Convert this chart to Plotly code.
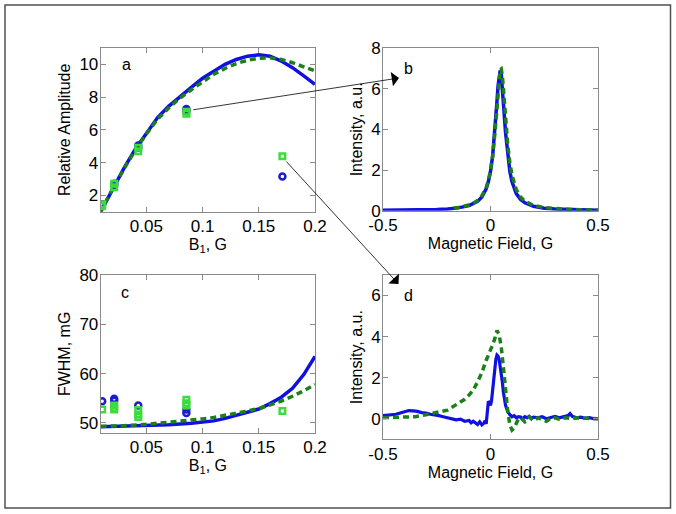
import plotly.graph_objects as go

# ---------------- data ----------------
# panel a: relative amplitude vs B1
a_curve_x = [0.0094, 0.015, 0.02, 0.03, 0.04, 0.05, 0.06, 0.07, 0.08, 0.09, 0.1, 0.11, 0.12, 0.13,
             0.14, 0.15, 0.16, 0.17, 0.18, 0.19, 0.2]
a_blue_curve = [1.0, 1.75, 2.4, 3.65, 4.8, 5.8, 6.75, 7.45, 8.05, 8.6, 9.15, 9.6, 10.0, 10.3,
                10.5, 10.58, 10.5, 10.2, 9.8, 9.3, 8.78]
a_green_curve = [1.0, 1.75, 2.4, 3.6, 4.75, 5.75, 6.65, 7.35, 7.95, 8.45, 8.95, 9.4, 9.75, 10.05,
                 10.25, 10.37, 10.4, 10.3, 10.1, 9.85, 9.6]
a_blue_pts_x = [0.0107, 0.0214, 0.0214, 0.0428, 0.0428, 0.0856, 0.0856, 0.171]
a_blue_pts_y = [1.45, 2.7, 2.6, 5.05, 4.9, 7.27, 7.15, 3.15]
a_green_pts_x = [0.0107, 0.0107, 0.0214, 0.0214, 0.0428, 0.0428, 0.0856, 0.0856, 0.171]
a_green_pts_y = [1.45, 1.35, 2.7, 2.5, 4.9, 4.7, 7.1, 6.98, 4.38]

# panel b: spectrum for B1 = 0.0856 G
b_blue_x = [-0.5, -0.45, -0.4, -0.35, -0.3, -0.25, -0.2, -0.15, -0.1, -0.08, -0.06, -0.04, -0.02,
            -0.01, 0, 0.01, 0.02, 0.025, 0.03, 0.035, 0.04, 0.045, 0.05, 0.055, 0.06, 0.065, 0.07,
            0.08, 0.09, 0.1, 0.12, 0.14, 0.16, 0.2, 0.25, 0.3, 0.35, 0.4, 0.45, 0.5]
b_blue_y = [0.02, 0.022, 0.027, 0.035, 0.045, 0.062, 0.089, 0.139, 0.248, 0.33, 0.458, 0.676, 1.08,
            1.42, 1.93, 2.69, 3.84, 4.57, 5.36, 6.12, 6.69, 6.9, 6.69, 6.12, 5.36, 4.57, 3.84,
            2.69, 1.93, 1.42, 0.84, 0.55, 0.39, 0.22, 0.126, 0.082, 0.058, 0.043, 0.033, 0.026]
b_green_x = [-0.17, -0.15, -0.1, -0.08, -0.06, -0.04, -0.02, -0.01, 0, 0.01, 0.02, 0.03, 0.035,
             0.04, 0.045, 0.05, 0.055, 0.06, 0.065, 0.07, 0.08, 0.09, 0.1, 0.12, 0.14, 0.16, 0.2,
             0.25, 0.3, 0.35, 0.4, 0.45, 0.5]
b_green_y = [0.13, 0.157, 0.277, 0.365, 0.5, 0.73, 1.14, 1.48, 1.97, 2.69, 3.74, 5.15, 5.89,
             6.53, 6.93, 6.97, 6.64, 6.03, 5.3, 4.55, 3.27, 2.36, 1.75, 1.04, 0.67, 0.47, 0.26,
             0.15, 0.098, 0.068, 0.05, 0.039, 0.03]

# panel c: FWHM vs B1
c_curve_x = [0.0094, 0.03, 0.05, 0.07, 0.09, 0.1, 0.11, 0.12, 0.13, 0.14, 0.15, 0.16, 0.17,
             0.18, 0.19, 0.2]
c_blue_curve = [49.2, 49.3, 49.4, 49.6, 49.9, 50.1, 50.4, 50.9, 51.5, 52.1, 52.8, 53.9, 55.2,
                57.0, 59.8, 63.5]
c_green_curve = [49.3, 49.4, 49.7, 50.1, 50.5, 50.8, 51.1, 51.5, 51.9, 52.4, 52.9, 53.6, 54.4,
                 55.4, 56.5, 57.8]
c_blue_pts_x = [0.0107, 0.0214, 0.0214, 0.0428, 0.0856, 0.0856]
c_blue_pts_y = [54.4, 54.9, 54.5, 53.5, 52.0, 52.7]
c_green_pts_x = [0.0107, 0.0214, 0.0214, 0.0214, 0.0428, 0.0428, 0.0428, 0.0856, 0.0856, 0.0856, 0.171]
c_green_pts_y = [52.7, 53.0, 52.7, 53.5, 52.6, 51.7, 51.2, 54.7, 54.0, 53.5, 52.4]

# panel d: spectrum for B1 = 0.171 G
d_blue_x = [-0.5, -0.48, -0.46, -0.44, -0.42, -0.4, -0.38, -0.36, -0.34, -0.32, -0.3, -0.28, -0.26,
            -0.24, -0.22, -0.2, -0.18, -0.16, -0.14, -0.12, -0.1, -0.09, -0.08, -0.07, -0.06,
            -0.05, -0.04, -0.03, -0.025, -0.02, -0.015, -0.01, -0.005, 0, 0.005, 0.01, 0.015,
            0.02, 0.025, 0.03, 0.035, 0.04, 0.045, 0.05, 0.055, 0.06, 0.065, 0.07, 0.075, 0.08,
            0.09, 0.1, 0.11, 0.12, 0.13, 0.14, 0.15, 0.16, 0.17, 0.18, 0.19, 0.2, 0.22, 0.24,
            0.26, 0.28, 0.3, 0.32, 0.34, 0.36, 0.37, 0.38, 0.4, 0.42, 0.44, 0.46, 0.48, 0.5]
d_blue_y = [0.15, 0.17, 0.18, 0.22, 0.28, 0.35, 0.4, 0.38, 0.36, 0.3, 0.28, 0.22, 0.2,
            0.15, 0.1, 0.05, 0.02, -0.05, -0.02, -0.12, -0.08, -0.2, -0.12, -0.18, -0.28,
            -0.15, -0.3, -0.2, -0.1, -0.25, 0.3, 0.85, 0.8, 0.65, 0.9, 1.4, 2.0,
            2.5, 2.9, 3.1, 3.05, 2.9, 2.6, 2.2, 1.8, 1.3, 0.9, 0.65, 0.5, 0.35,
            0.2, 0.1, 0.15, 0.05, 0.1, 0.08, 0.0, 0.1, 0.05, 0.12, 0.02, 0.08, 0.05, 0.1,
            0.0, 0.08, 0.12, 0.05, 0.1, 0.15, 0.25, 0.12, 0.05, 0.08, 0.02, 0.05, 0.0, 0.0]
d_green_x = [-0.5, -0.45, -0.4, -0.35, -0.3, -0.25, -0.2, -0.15, -0.12, -0.1, -0.08, -0.06, -0.04,
             -0.02, 0, 0.01, 0.02, 0.03, 0.04, 0.05, 0.06, 0.07, 0.08, 0.09, 0.1, 0.11, 0.12,
             0.13, 0.14, 0.15, 0.16, 0.17, 0.18, 0.19, 0.2, 0.22, 0.24, 0.26, 0.28, 0.3, 0.32,
             0.35, 0.38, 0.4, 0.45, 0.5]
d_green_y = [0.05, 0.06, 0.08, 0.1, 0.2, 0.3, 0.42, 0.75, 0.95, 1.15, 1.4, 1.8, 2.25,
             2.85, 3.3, 3.6, 3.9, 4.3, 4.1, 3.5, 2.5, 1.4, 0.4, -0.3, -0.55, -0.45, -0.2,
             0.0, 0.05, -0.05, -0.15, -0.05, 0.08, 0.0, -0.1, 0.05, -0.05, -0.12, 0.02, 0.05, -0.02,
             0.05, 0.0, 0.05, 0.02, 0.0]

# ---------------- styles ----------------
BLUE = "#1010e0"
BLUE_M = "#1c1cd0"
DKGREEN = "#1a801a"
LIME = "#3cdc3c"
FONT = "Liberation Sans, Arial, sans-serif"
W, H = 676, 514

fig = go.Figure()


def curves(xa, ya, x, yb, yg, xg=None):
    fig.add_trace(go.Scatter(x=x, y=yb, mode="lines", line=dict(color=BLUE, width=3.5),
                             xaxis=xa, yaxis=ya, showlegend=False, hoverinfo="skip"))
    fig.add_trace(go.Scatter(x=xg if xg is not None else x, y=yg, mode="lines",
                             line=dict(color=DKGREEN, width=3.5, dash="6px,4px"),
                             xaxis=xa, yaxis=ya, showlegend=False, hoverinfo="skip"))


def points(xa, ya, bx, by, gx, gy):
    fig.add_trace(go.Scatter(x=bx, y=by, mode="markers",
                             marker=dict(symbol="circle-open", size=6, color=BLUE_M,
                                         line=dict(width=2.5, color=BLUE_M)),
                             xaxis=xa, yaxis=ya, showlegend=False, hoverinfo="skip"))
    fig.add_trace(go.Scatter(x=gx, y=gy, mode="markers",
                             marker=dict(symbol="square-open", size=5.5, color=LIME,
                                         line=dict(width=2.5, color=LIME)),
                             xaxis=xa, yaxis=ya, showlegend=False, hoverinfo="skip"))


curves("x", "y", a_curve_x, a_blue_curve, a_green_curve)
points("x", "y", a_blue_pts_x, a_blue_pts_y, a_green_pts_x, a_green_pts_y)

fig.add_trace(go.Scatter(x=b_blue_x, y=b_blue_y, mode="lines", line=dict(color=BLUE, width=3.5),
                         xaxis="x2", yaxis="y2", showlegend=False, hoverinfo="skip"))
fig.add_trace(go.Scatter(x=b_green_x, y=b_green_y, mode="lines",
                         line=dict(color=DKGREEN, width=3.5, dash="6px,4px"),
                         xaxis="x2", yaxis="y2", showlegend=False, hoverinfo="skip"))

curves("x3", "y3", c_curve_x, c_blue_curve, c_green_curve)
points("x3", "y3", c_blue_pts_x, c_blue_pts_y, c_green_pts_x, c_green_pts_y)

fig.add_trace(go.Scatter(x=d_blue_x, y=d_blue_y, mode="lines", line=dict(color=BLUE, width=3.2),
                         xaxis="x4", yaxis="y4", showlegend=False, hoverinfo="skip"))
fig.add_trace(go.Scatter(x=d_green_x, y=d_green_y, mode="lines",
                         line=dict(color=DKGREEN, width=3.5, dash="6px,4px"),
                         xaxis="x4", yaxis="y4", showlegend=False, hoverinfo="skip"))


def fx(px):
    return px / W


def fy(py):
    return 1 - py / H


def axis(domain, rng, tickvals, ticktext=None, title=None, anchor=None, standoff_lbl=0,
         title_standoff=4):
    d = dict(domain=domain, range=rng, tickvals=tickvals, showgrid=False, zeroline=False,
             showline=True, linecolor="#8a8a8a", linewidth=1, mirror="ticks",
             ticks="inside", ticklen=5, tickcolor="#8a8a8a", automargin=False,
             ticklabelstandoff=standoff_lbl,
             tickfont=dict(family=FONT, size=17, color="black"), anchor=anchor)
    if ticktext is not None:
        d["ticktext"] = ticktext
    if title:
        d["title"] = dict(text=title, font=dict(family=FONT, size=16, color="black"),
                          standoff=title_standoff)
    return d


xa_dom = [fx(100.7), fx(315)]
xb_dom = [fx(383), fx(598)]

fig.update_layout(
    width=W, height=H, margin=dict(l=0, r=0, t=0, b=0, pad=0),
    paper_bgcolor="white", plot_bgcolor="white",
    xaxis=axis(xa_dom, [0.0094, 0.2], [0.05, 0.1, 0.15, 0.2], ["0.05", "0.1", "0.15", "0.2"],
               "B<sub>1</sub>, G", "y", -1, 1),
    yaxis=axis([fy(211.7), fy(48)], [1, 11], [2, 4, 6, 8, 10], None, "Relative Amplitude", "x", -2),
    xaxis2=axis(xb_dom, [-0.5, 0.5], [-0.5, 0, 0.5], ["-0.5", "0", "0.5"],
                "Magnetic Field, G", "y2", -1, 0),
    yaxis2=axis([fy(210.7), fy(48)], [0, 8], [0, 2, 4, 6, 8], None, "Intensity, a.u.", "x2", -2),
    xaxis3=axis(xa_dom, [0.0094, 0.2], [0.05, 0.1, 0.15, 0.2], ["0.05", "0.1", "0.15", "0.2"],
                "B<sub>1</sub>, G", "y3", -1, 1),
    yaxis3=axis([fy(432.7), fy(275)], [48, 80], [50, 60, 70, 80], None, "FWHM, mG", "x3", -2),
    xaxis4=axis(xb_dom, [-0.5, 0.5], [-0.5, 0, 0.5], ["-0.5", "0", "0.5"],
                "Magnetic Field, G", "y4", -1, 0),
    yaxis4=axis([fy(439.3), fy(275)], [-1, 7], [0, 2, 4, 6], None, "Intensity, a.u.", "x4", -2),
    showlegend=False,
)

# panel letters
letters = [("a", "x", "y", 0.032, 10.0), ("b", "x2", "y2", -0.38, 7.0),
           ("c", "x3", "y3", 0.031, 76.4), ("d", "x4", "y4", -0.38, 6.0)]
for t, xr, yr, xv, yv in letters:
    fig.add_annotation(text=t, x=xv, y=yv, xref=xr, yref=yr, showarrow=False,
                       font=dict(family=FONT, size=16, color="black"))

# connecting arrows
fig.add_annotation(x=fx(399), y=fy(78), xref="paper", yref="paper", ax=191.7 - 399, ay=110 - 78,
                   showarrow=True, arrowhead=1, arrowsize=3, arrowwidth=0.8, arrowcolor="black",
                   text="")
fig.add_annotation(x=fx(398.5), y=fy(284), xref="paper", yref="paper", ax=285 - 398.5, ay=160 - 284,
                   showarrow=True, arrowhead=1, arrowsize=3, arrowwidth=0.8, arrowcolor="black",
                   text="")

# outer frame
fig.add_shape(type="rect", xref="paper", yref="paper", x0=fx(5), x1=fx(670.5), y0=fy(508), y1=fy(5),
              line=dict(color="#505050", width=1.5))

fig.write_html("out.html", config={"displayModeBar": False},
               post_script="document.body.style.margin='0px';")
